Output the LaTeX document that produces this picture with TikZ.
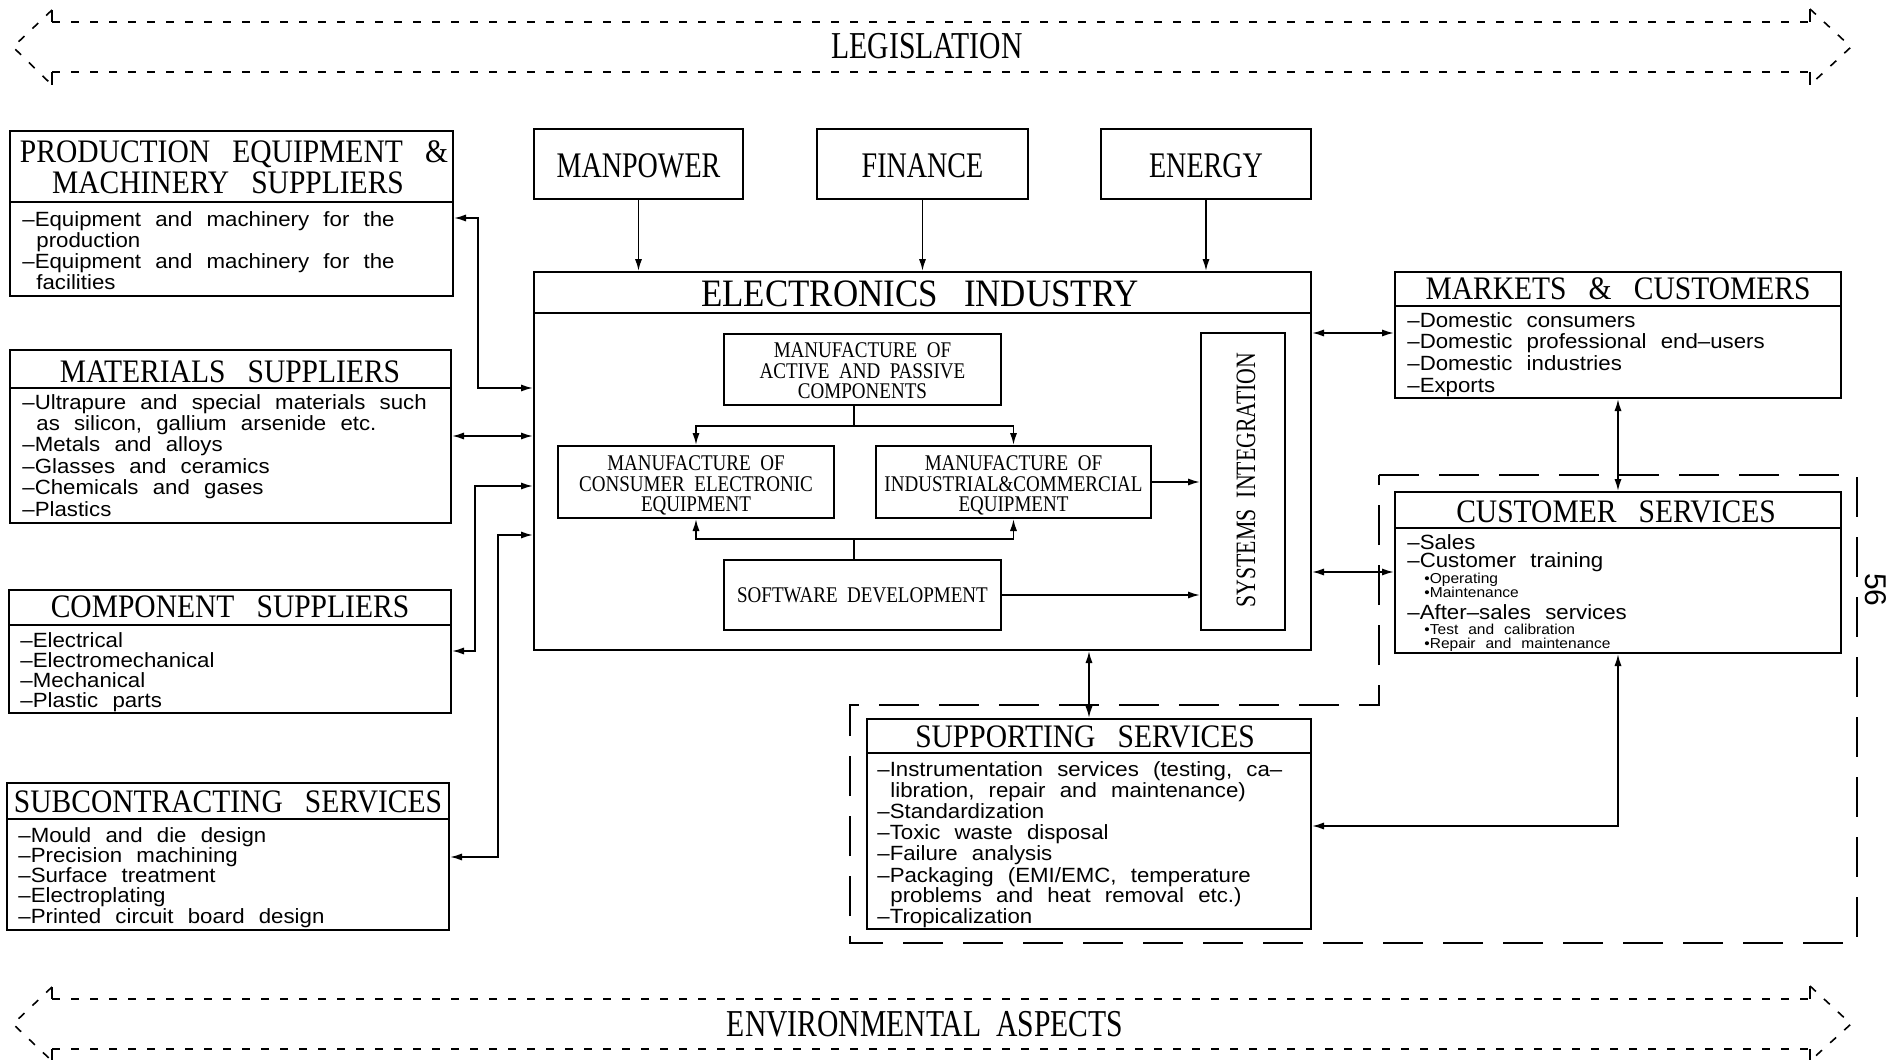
\documentclass[tikz,border=0pt]{standalone}
\usepackage{fontspec}
\usetikzlibrary{arrows.meta,fit}
\newfontfamily\hfont{Liberation Serif}[FakeStretch=0.9,WordSpace=3]
\newfontfamily\cfont{Liberation Serif}[FakeStretch=0.78,WordSpace=2]
\newfontfamily\mfont{Liberation Serif}[FakeStretch=0.85,WordSpace=2]
\newfontfamily\bfont{Liberation Sans}[FakeStretch=1.08,WordSpace=2.3]
\newfontfamily\pfont{Liberation Sans}
\begin{document}
\begin{tikzpicture}[x=0.5pt,y=-0.5pt,
  box/.style={draw, line width=1pt, inner sep=0pt},
  divl/.style={line width=1pt},
  conn/.style={line width=0.9pt, {Latex[length=6pt,width=3.6pt]}-{Latex[length=6pt,width=3.6pt]}},
  toarrow/.style={line width=0.9pt, -{Latex[length=6pt,width=3.6pt]}},
  plain/.style={line width=0.9pt},
  head/.style={font=\hfont\fontsize{16.4}{18}\selectfont, inner sep=0pt, anchor=base},
  bighead/.style={font=\cfont\fontsize{18}{20}\selectfont, inner sep=0pt, anchor=base},
  smallhead/.style={font=\mfont\fontsize{11.2}{12}\selectfont, inner sep=0pt, anchor=base},
  itm/.style={font=\bfont\fontsize{10.3}{11}\selectfont, inner sep=0pt, anchor=base west},
  sitm/.style={font=\bfont\fontsize{7.2}{8}\selectfont, inner sep=0pt, anchor=base west},
  band/.style={line width=0.8pt, dash pattern=on 4pt off 5.5pt},
  bandsolid/.style={line width=0.8pt},
  bigdash/.style={line width=0.9pt, dash pattern=on 20pt off 10pt},
]
\useasboundingbox (0,0) rectangle (1887,1060);
\fill[white] (0,0) rectangle (1887,1060);

% ---------- LEGISLATION band ----------
\draw[band] (52,22) -- (1810,22);
\draw[band] (52,72) -- (1810,72);
\draw[band] (52,10) -- (13,47) -- (52,85);
\draw[band] (1810,9) -- (1851,47) -- (1810,85);
\draw[bandsolid] (52,10) -- (52,22) (52,72) -- (52,85) (1810,9) -- (1810,22) (1810,72) -- (1810,85);
\node[bighead, font=\cfont\fontsize{19}{20}\selectfont] (legis) at (927,58) {LEGISLATION};

% ---------- ENVIRONMENTAL band ----------
\draw[band] (52,999) -- (1810,999);
\draw[band] (52,1049) -- (1810,1049);
\draw[band] (52,987) -- (13,1024) -- (52,1061);
\draw[band] (1810,986) -- (1851,1024) -- (1810,1061);
\draw[bandsolid] (52,987) -- (52,999) (52,1049) -- (52,1061) (1810,986) -- (1810,999) (1810,1049) -- (1810,1061);
\node[bighead, font=\cfont\fontsize{19}{20}\selectfont] (env) at (925,1036) {ENVIRONMENTAL ASPECTS};

% ---------- Left boxes ----------
\node[box, fit={(10,131) (453,296)}] (prod) {};
\draw[divl] (prod.west |- 0,202) -- (prod.east |- 0,202);
\node[head] (prodt1) at (234,162) {PRODUCTION EQUIPMENT \&};
\node[head] (prodt2) at (228,193) {MACHINERY SUPPLIERS};
\foreach \dx/\t [count=\i from 0] in {0/{–Equipment and machinery for the}, 14/{production}, 0/{–Equipment and machinery for the}, 14/{facilities}}
  \node[itm] (prodi\i) at ({22+\dx},{226+\i*21.3}) {\t};

\node[box, fit={(10,350) (451,523)}] (mat) {};
\draw[divl] (mat.west |- 0,388) -- (mat.east |- 0,388);
\node[head] (matt) at (230,382) {MATERIALS SUPPLIERS};
\foreach \dx/\t [count=\i from 0] in {0/{–Ultrapure and special materials such}, 14/{as silicon, gallium arsenide etc.}, 0/{–Metals and alloys}, 0/{–Glasses and ceramics}, 0/{–Chemicals and gases}, 0/{–Plastics}}
  \node[itm] (mati\i) at ({22+\dx},{409+\i*21.4}) {\t};

\node[box, fit={(9,590) (451,713)}] (comp) {};
\draw[divl] (comp.west |- 0,625) -- (comp.east |- 0,625);
\node[head] (compt) at (230,617) {COMPONENT SUPPLIERS};
\foreach \t [count=\i from 0] in {–Electrical, –Electromechanical, –Mechanical, –Plastic parts}
  \node[itm] (compi\i) at (20,{647+\i*20}) {\t};

\node[box, fit={(7,783) (449,930)}] (sub) {};
\draw[divl] (sub.west |- 0,819) -- (sub.east |- 0,819);
\node[head] (subt) at (228,812) {SUBCONTRACTING SERVICES};
\foreach \t [count=\i from 0] in {–Mould and die design, –Precision machining, –Surface treatment, –Electroplating, –Printed circuit board design}
  \node[itm] (subi\i) at (18,{842+\i*20.3}) {\t};

% ---------- Top resource boxes ----------
\node[box, fit={(534,129) (743,199)}] (man) {};
\node[bighead] (mant) at (638.5,177) {MANPOWER};
\node[box, fit={(817,129) (1028,199)}] (fin) {};
\node[bighead] (fint) at (922.5,177) {FINANCE};
\node[box, fit={(1101,129) (1311,199)}] (ene) {};
\node[bighead] (enet) at (1206,177) {ENERGY};

% ---------- Electronics industry ----------
\node[box, fit={(534,272) (1311,650)}] (elec) {};
\draw[divl] (elec.west |- 0,313) -- (elec.east |- 0,313);
\node[head, font=\hfont\fontsize{19.4}{21}\selectfont] (elect) at (920,306) {ELECTRONICS INDUSTRY};

\node[box, fit={(724,334) (1001,405)}] (act) {};
\node[smallhead] (act1) at (862.5,357) {MANUFACTURE OF};
\node[smallhead] (act2) at (862.5,378) {ACTIVE AND PASSIVE};
\node[smallhead] (act3) at (862.5,398) {COMPONENTS};

\node[box, fit={(558,446) (834,518)}] (cons) {};
\node[smallhead] (cons1) at (696,470) {MANUFACTURE OF};
\node[smallhead] (cons2) at (696,491) {CONSUMER ELECTRONIC};
\node[smallhead] (cons3) at (696,511) {EQUIPMENT};

\node[box, fit={(876,446) (1151,518)}] (ind) {};
\node[smallhead] (ind1) at (1013.5,470) {MANUFACTURE OF};
\node[smallhead] (ind2) at (1013.5,491) {INDUSTRIAL\&COMMERCIAL};
\node[smallhead] (ind3) at (1013.5,511) {EQUIPMENT};

\node[box, fit={(724,560) (1001,630)}] (soft) {};
\node[smallhead] (softt) at (862.5,602) {SOFTWARE DEVELOPMENT};

\node[box, fit={(1201,333) (1285,630)}] (sys) {};
\node[bighead, font=\cfont\fontsize{14}{15}\selectfont, rotate=90] (syst) at (1255,480) {SYSTEMS INTEGRATION};

% inner connectors
\coordinate (j1) at (854,426);
\coordinate (j2) at (854,539);
\draw[plain] (act.south -| j1) -- (j1);
\draw[toarrow] (j1) -| (cons.north);
\draw[toarrow] (j1) -| (ind.north);
\draw[plain] (soft.north -| j2) -- (j2);
\draw[toarrow] (j2) -| (cons.south);
\draw[toarrow] (j2) -| (ind.south);
\draw[toarrow] (ind.east) -- (ind.east -| sys.west);
\draw[toarrow] (soft.east) -- (soft.east -| sys.west);

% top arrows
\draw[toarrow] (man.south) -- (man.south |- elec.north);
\draw[toarrow] (fin.south) -- (fin.south |- elec.north);
\draw[toarrow] (ene.south) -- (ene.south |- elec.north);

% left connectors
\draw[conn] (prod.east |- 0,218) -| (478,388) -- (elec.west |- 0,388);
\draw[conn] (mat.east |- 0,436) -- (elec.west |- 0,436);
\draw[conn] (comp.east |- 0,651) -| (475,486) -- (elec.west |- 0,486);
\draw[conn] (sub.east |- 0,857) -| (498,535) -- (elec.west |- 0,535);

% ---------- Right side ----------
\node[box, fit={(1395,272) (1841,398)}] (mkt) {};
\draw[divl] (mkt.west |- 0,306) -- (mkt.east |- 0,306);
\node[head] (mktt) at (1618,299) {MARKETS \& CUSTOMERS};
\foreach \t [count=\i from 0] in {–Domestic consumers, –Domestic professional end–users, –Domestic industries, –Exports}
  \node[itm] (mkti\i) at (1407,{327+\i*21.7}) {\t};

\draw[bigdash] (1379,475) -- (1857,475) -- (1857,943) -- (850,943) -- (850,705) -- (1379,705) -- cycle;

\node[box, fill=white, fit={(1395,492) (1841,653)}] (cs) {};
\draw[divl] (cs.west |- 0,528) -- (cs.east |- 0,528);
\node[head] (cst) at (1616,522) {CUSTOMER SERVICES};
\node[itm] (cs1) at (1407,549) {–Sales};
\node[itm] (cs2) at (1407,567) {–Customer training};
\node[sitm] (cs3) at (1424,583) {•Operating};
\node[sitm] (cs4) at (1424,597) {•Maintenance};
\node[itm] (cs5) at (1407,619) {–After–sales services};
\node[sitm] (cs6) at (1424,634) {•Test and calibration};
\node[sitm] (cs7) at (1424,648) {•Repair and maintenance};

\node[box, fill=white, fit={(867,719) (1311,929)}] (sup) {};
\draw[divl] (sup.west |- 0,753) -- (sup.east |- 0,753);
\node[head] (supt) at (1085,747) {SUPPORTING SERVICES};
\foreach \dx/\yy/\t [count=\i] in {0/776/{–Instrumentation services (testing, ca–}, 13/797/{libration, repair and maintenance)}, 0/818/{–Standardization}, 0/839/{–Toxic waste disposal}, 0/860/{–Failure analysis}, 0/882/{–Packaging (EMI/EMC, temperature}, 13/902/{problems and heat removal etc.)}, 0/923/{–Tropicalization}}
  \node[itm] (supi\i) at ({877+\dx},\yy) {\t};

% right connectors
\draw[conn] (elec.east |- 0,333) -- (mkt.west |- 0,333);
\draw[conn] (elec.east |- 0,572) -- (cs.west |- 0,572);
\draw[conn] (mkt.south) -- (cs.north);
\draw[conn] (sup.north |- elec.south) -- (sup.north);
\draw[conn] (cs.south) |- (sup.east |- 0,826);

% page number
\node[font=\pfont\fontsize{15}{16}\selectfont, rotate=-90, inner sep=0pt] (pg) at (1876,590) {56};
\end{tikzpicture}
\end{document}
